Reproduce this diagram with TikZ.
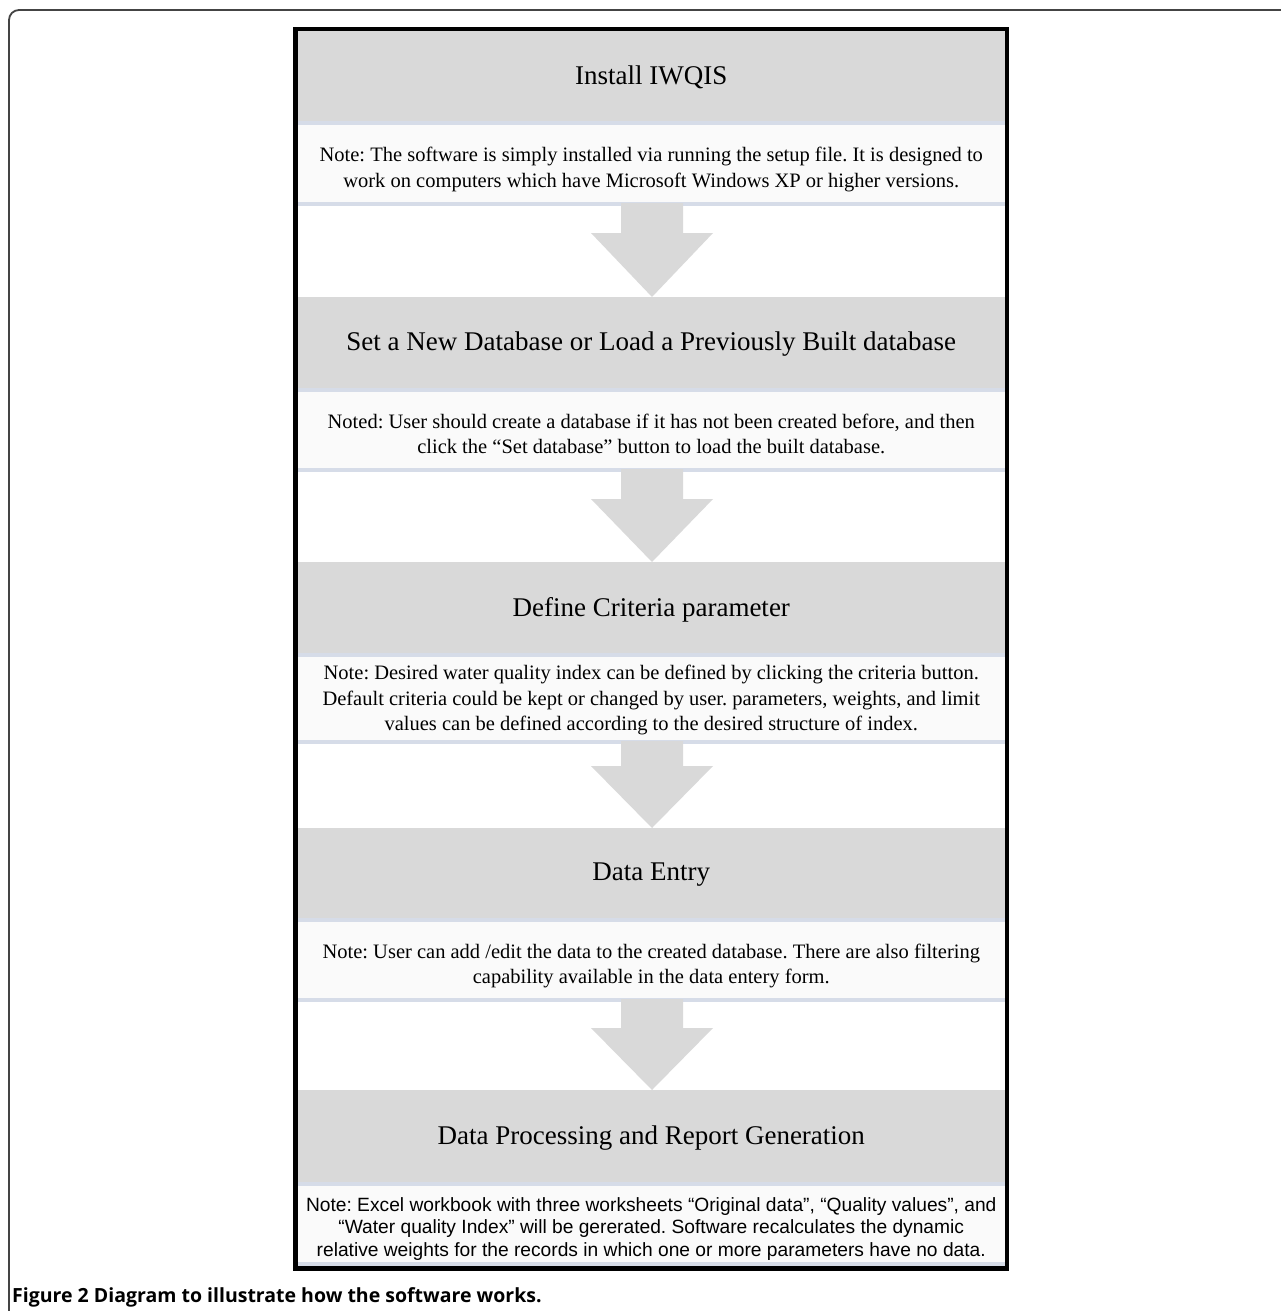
\documentclass[tikz,border=0pt]{standalone}
\usepackage{fontspec}
\setmainfont{Liberation Serif}
\setsansfont{Liberation Sans}
\newfontfamily\capfont{Open Sans}
\usetikzlibrary{calc}
\definecolor{hdrgray}{HTML}{D9D9D9}
\definecolor{notebg}{HTML}{FAFAFA}
\definecolor{sepblue}{HTML}{D6DCE8}
\definecolor{framegray}{HTML}{444444}
\begin{document}
\frenchspacing
\begin{tikzpicture}[x=1pt,y=-1pt,
  hdr/.style={inner sep=0pt, font=\fontsize{27}{31}\selectfont},
  note/.style={inner sep=0pt, align=center, font=\fontsize{20.5}{25.5}\selectfont},
  notesans/.style={note, font=\sffamily\fontsize{19.2}{22.5}\selectfont},
  hdrfill/.style={fill=hdrgray},
  notefill/.style={fill=notebg},
  sepline/.style={fill=sepblue},
  blockarrow/.style={fill=hdrgray},
  frame/.style={draw=black, line width=4.5pt}]
\useasboundingbox (0,0) rectangle (1281,1311);
\fill[white] (0,0) rectangle (1281,1311);
\draw[framegray, line width=1.8pt, rounded corners=10pt] (9,1330) -- (9,10) -- (1300,10);

% Section 1
\fill[hdrfill] (295.5,29) rectangle (1007,121);
\fill[sepline] (295.5,121) rectangle (1007,125);
\fill[notefill] (295.5,125) rectangle (1007,202);
\fill[sepline] (295.5,202) rectangle (1007,206);
\node[hdr] (h1) at (651.25,77) {Install IWQIS};
\node[note] (n1) at (651.25,169.5) {Note: The software is simply installed via running the setup file. It is designed to\\work on computers which have Microsoft Windows XP or higher versions.};
\fill[blockarrow] (621,203) -- (683,203) -- (683,233) -- (713,233) -- (652,297) -- (591,233) -- (621,233) -- cycle;

% Section 2
\fill[hdrfill] (295.5,297) rectangle (1007,388);
\fill[sepline] (295.5,388) rectangle (1007,392);
\fill[notefill] (295.5,392) rectangle (1007,468);
\fill[sepline] (295.5,468) rectangle (1007,472);
\node[hdr] (h2) at (651.25,344.5) {Set a New Database or Load a Previously Built database};
\node[note] (n2) at (651.25,434) {Noted: User should create a database if it has not been created before, and then\\click the “Set database” button to load the built database.};
\fill[blockarrow] (621,469) -- (683,469) -- (683,499) -- (713,499) -- (652,562) -- (591,499) -- (621,499) -- cycle;

% Section 3
\fill[hdrfill] (295.5,562) rectangle (1007,653);
\fill[sepline] (295.5,653) rectangle (1007,657);
\fill[notefill] (295.5,657) rectangle (1007,740);
\fill[sepline] (295.5,740) rectangle (1007,744);
\node[hdr] (h3) at (651.25,609.5) {Define Criteria parameter};
\node[note] (n3) at (651.25,700) {Note: Desired water quality index can be defined by clicking the criteria button.\\Default criteria could be kept or changed by user. parameters, weights, and limit\\values can be defined according to the desired structure of index.};
\fill[blockarrow] (621,741) -- (683,741) -- (683,766) -- (713,766) -- (652,828) -- (591,766) -- (621,766) -- cycle;

% Section 4
\fill[hdrfill] (295.5,828) rectangle (1007,918);
\fill[sepline] (295.5,918) rectangle (1007,922);
\fill[notefill] (295.5,922) rectangle (1007,998);
\fill[sepline] (295.5,998) rectangle (1007,1002);
\node[hdr] (h4) at (651.25,875) {Data Entry};
\node[note] (n4) at (651.25,966) {Note: User can add /edit the data to the created database. There are also filtering\\capability available in the data entery form.};
\fill[blockarrow] (621,999) -- (683,999) -- (683,1028) -- (713,1028) -- (652,1090) -- (591,1028) -- (621,1028) -- cycle;

% Section 5
\fill[hdrfill] (295.5,1090) rectangle (1007,1182);
\fill[sepline] (295.5,1182) rectangle (1007,1186);
\fill[notefill] (295.5,1186) rectangle (1007,1262);
\fill[sepline] (295.5,1262) rectangle (1007,1266);
\node[hdr] (h5) at (651.25,1138) {Data Processing and Report Generation};
\node[notesans] (n5) at (651.25,1229) {Note: Excel workbook with three worksheets “Original data”, “Quality values”, and\\“Water quality Index” will be gererated. Software recalculates the dynamic\\relative weights for the records in which one or more parameters have no data.};

% inner frame
\draw[frame] (295.5,29) rectangle (1007,1268.5);

% caption
\node[anchor=base west, inner sep=0pt, font=\capfont\bfseries\fontsize{19.5}{22}\selectfont] (cap) at (12,1302) {Figure 2 Diagram to illustrate how the software works.};
\end{tikzpicture}
\end{document}
